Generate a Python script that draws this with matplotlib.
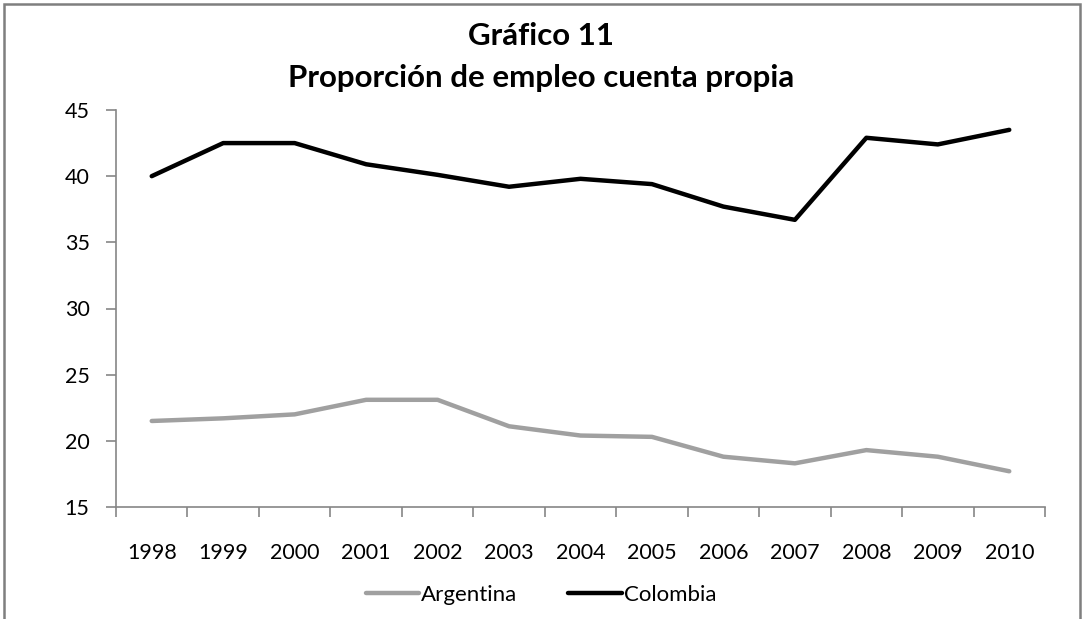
import matplotlib
matplotlib.use("Agg")
import matplotlib.pyplot as plt
from matplotlib.patches import Rectangle
import numpy as np

years = ["1998", "1999", "2000", "2001", "2002", "2003", "2004",
         "2005", "2006", "2007", "2008", "2009", "2010"]
argentina = [21.5, 21.7, 22.0, 23.1, 23.1, 21.1, 20.4, 20.3, 18.8, 18.3, 19.3, 18.8, 17.7]
colombia = [40.0, 42.5, 42.5, 40.9, 40.1, 39.2, 39.8, 39.4, 37.7, 36.7, 42.9, 42.4, 43.5]
yticks = [15, 20, 25, 30, 35, 40, 45]

plt.rcParams['font.family'] = ['Lato', 'DejaVu Sans']

W, H = 1082, 619
fig = plt.figure(figsize=(W / 100, H / 100), dpi=100)
fig.patch.set_facecolor('white')

# outer frame
fig.add_artist(Rectangle((4 / W, -0.01), (1080 - 4) / W, (H - 4) / H + 0.01,
                         transform=fig.transFigure, fill=False,
                         edgecolor='#7f7f7f', linewidth=1.8))

left, right, top, bottom = 116, 1045, 110, 507
ax = fig.add_axes([left / W, 1 - bottom / H, (right - left) / W, (bottom - top) / H])

x = np.arange(len(years))
ax.plot(x, argentina, color='#a0a0a0', linewidth=3.2, solid_capstyle='round',
        solid_joinstyle='round', label='Argentina')
ax.plot(x, colombia, color='#000000', linewidth=3.2, solid_capstyle='round',
        solid_joinstyle='round', label='Colombia')

ax.set_xlim(-0.5, len(years) - 0.5)
ax.set_ylim(15, 45)
ax.set_yticks(yticks)
ax.set_yticklabels([str(v) for v in yticks], fontsize=15.5)
ax.set_xticks(x)
ax.set_xticklabels(years, fontsize=15.5)
ax.set_xticks(np.arange(-0.5, len(years), 1.0), minor=True)
ax.tick_params(axis='x', which='major', length=0, pad=26)
ax.tick_params(axis='x', which='minor', length=7, color='#868686', width=1.2, direction='out')
ax.tick_params(axis='y', length=7, color='#868686', width=1.2, direction='out', pad=12)

for s in ['top', 'right']:
    ax.spines[s].set_visible(False)
for s in ['left', 'bottom']:
    ax.spines[s].set_color('#868686')
    ax.spines[s].set_linewidth(1.2)

fig.text(0.5, 1 - 36 / H, "Gráfico 11", ha='center', va='center',
         fontsize=22.5, fontweight='bold')
fig.text(0.5, 1 - 78 / H, "Proporción de empleo cuenta propia", ha='center', va='center',
         fontsize=22.5, fontweight='bold')

leg = fig.legend(loc='center', bbox_to_anchor=(0.5, 1 - 595 / H), ncol=2, frameon=False,
                 fontsize=16, handlelength=2.4, handletextpad=0.1, columnspacing=2.3)

fig.savefig('out.png', dpi=100, facecolor='white')
